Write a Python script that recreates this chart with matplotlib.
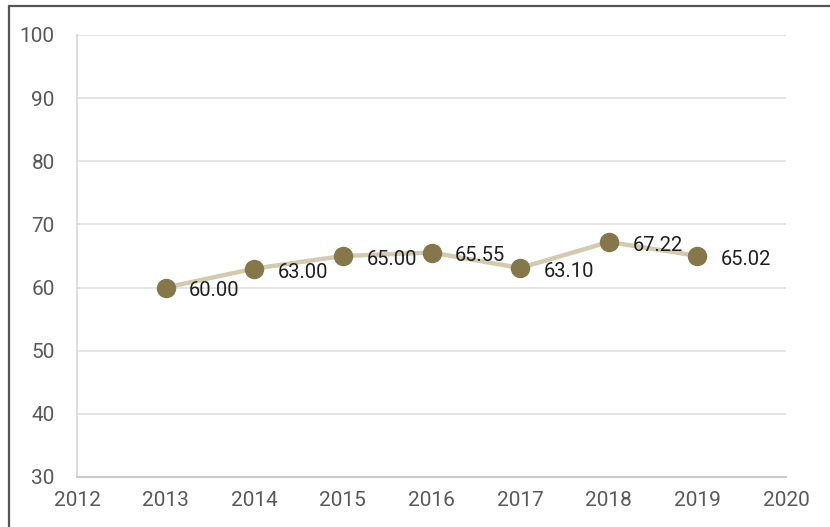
import matplotlib
matplotlib.use("Agg")
import matplotlib.pyplot as plt
from matplotlib.patches import Rectangle

years = [2013, 2014, 2015, 2016, 2017, 2018, 2019]
values = [60.00, 63.00, 65.00, 65.55, 63.10, 67.22, 65.02]
labels = ["60.00", "63.00", "65.00", "65.55", "63.10", "67.22", "65.02"]

plt.rcParams['font.family'] = ['Roboto', 'DejaVu Sans']

fig = plt.figure(figsize=(8.3, 5.27), dpi=100)
ax = fig.add_axes([77/830, 1 - 477/527, (786 - 77)/830, (477 - 35)/527])

# outer frame (only left and top visible in the reference)
fig.patches.append(Rectangle((8.5/830, -0.1), 1.2, 1 - 5.5/527 + 0.1,
                             transform=fig.transFigure, fill=False,
                             edgecolor='#555555', linewidth=1.6))

ax.plot(years, values, color='#D3CAB0', linewidth=3.2, zorder=2)
ax.plot(years, values, linestyle='none', marker='o', markersize=13,
        color='#85774A', zorder=3)

for x, y, t in zip(years, values, labels):
    ax.annotate(t, xy=(x, y), xytext=(17, -1), textcoords='offset points',
                ha='left', va='center_baseline', fontsize=14.5, color='#1E1E1E')

ax.set_xlim(2012, 2020)
ax.set_ylim(30, 100)
ax.set_xticks(range(2012, 2021))
ax.set_yticks(range(30, 101, 10))
ax.yaxis.grid(True, color='#E3E3E3', linewidth=1.3)
ax.set_axisbelow(True)
for s in ['top', 'right']:
    ax.spines[s].set_visible(False)
ax.spines['left'].set_color('#DADADA')
ax.spines['bottom'].set_color('#CCCCCC')
ax.spines['left'].set_linewidth(1.3)
ax.spines['bottom'].set_linewidth(1.5)
ax.tick_params(axis='both', length=0, labelsize=15, colors='#595959')
ax.tick_params(axis='y', pad=16)
ax.tick_params(axis='x', pad=10)

fig.savefig('out.png', dpi=100)
